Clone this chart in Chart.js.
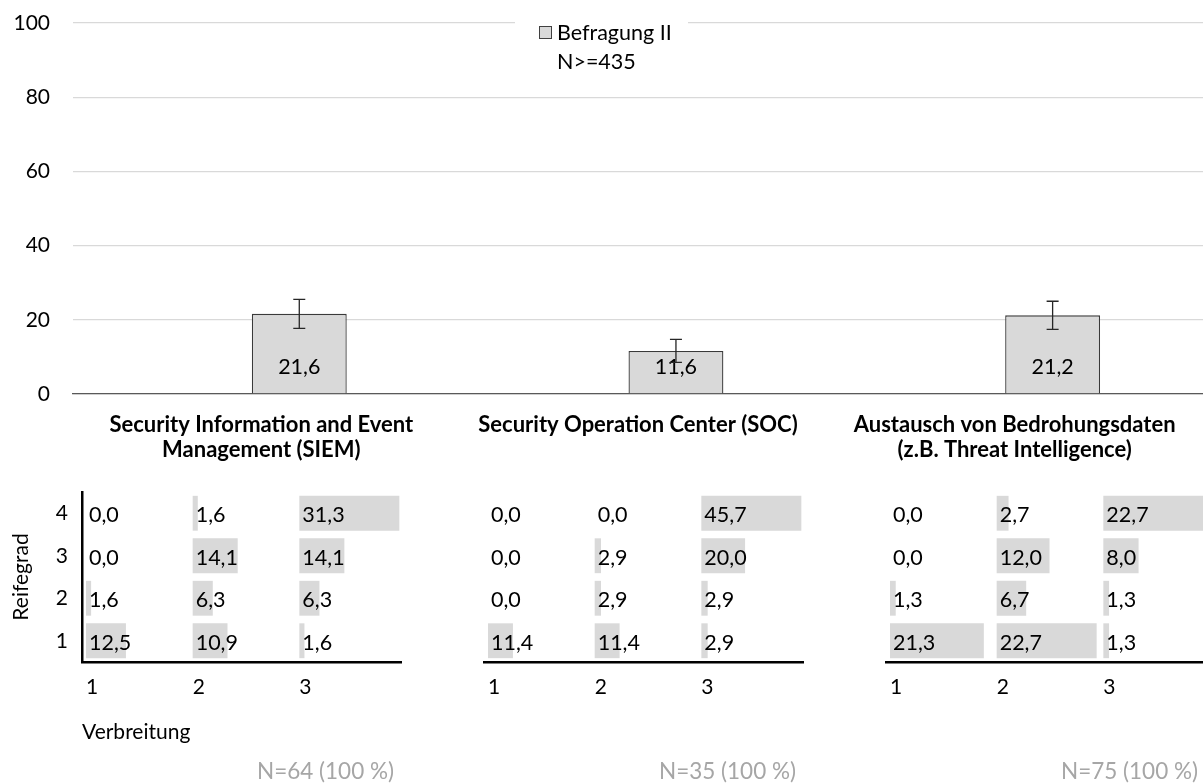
<!DOCTYPE html>
<html lang="de">
<head>
<meta charset="utf-8">
<title>Befragung II</title>
<script src="https://cdn.jsdelivr.net/npm/chart.js@4.4.1/dist/chart.umd.min.js"></script>
<style>
  html, body { margin: 0; padding: 0; background: #fff; width: 1203px; height: 783px; overflow: hidden; }
  canvas { position: absolute; }
  #main { left: 0; top: 0; }
  #p0 { left: 0; top: 480px; }
  #p1 { left: 402px; top: 480px; }
  #p2 { left: 804px; top: 480px; }
</style>
</head>
<body>
<canvas id="main" width="1203" height="470"></canvas>
<canvas id="p0" width="402" height="303"></canvas>
<canvas id="p1" width="402" height="303"></canvas>
<canvas id="p2" width="402" height="303"></canvas>
<script>
// --- data ---
const categories = [
    ['Security Information and Event', 'Management (SIEM)'],
    ['Security Operation Center (SOC)'],
    ['Austausch von Bedrohungsdaten', '(z.B. Threat Intelligence)']
];
const werte = [21.6, 11.6, 21.2];
const fehler = [3.9, 3.1, 3.8];
const seriesLabel = 'Befragung II';
const seriesNote = 'N>=435';
const yTicks = [0, 20, 40, 60, 80, 100];

// lower tables: rows = Reifegrad 4..1, columns = Verbreitung 1..3
const reifegrad = ['4', '3', '2', '1'];
const verbreitung = ['1', '2', '3'];
const siem = [[0.0, 1.6, 31.3], [0.0, 14.1, 14.1], [1.6, 6.3, 6.3], [12.5, 10.9, 1.6]];
const soc = [[0.0, 0.0, 45.7], [0.0, 2.9, 20.0], [0.0, 2.9, 2.9], [11.4, 11.4, 2.9]];
const cti = [[0.0, 2.7, 22.7], [0.0, 12.0, 8.0], [1.3, 6.7, 1.3], [21.3, 22.7, 1.3]];
const stichprobe = ['N=64 (100 %)', 'N=35 (100 %)', 'N=75 (100 %)'];

const FONT = 'Lato, "Noto Sans", sans-serif';
const fmt = v => v.toFixed(1).replace('.', ',');

Chart.defaults.font.family = FONT;
Chart.defaults.color = '#000';

// value labels + error bars on the top chart
const barExtras = {
    id: 'barExtras',
    afterDatasetsDraw(chart) {
        const ctx = chart.ctx;
        const y = chart.scales.y;
        const bars = chart.getDatasetMeta(1).data;
        ctx.save();
        ctx.font = '21.5px ' + FONT;
        ctx.fillStyle = '#000';
        ctx.textAlign = 'center';
        ctx.textBaseline = 'middle';
        bars.forEach((b, i) => ctx.fillText(fmt(werte[i]), b.x, b.base - 26));
        ctx.strokeStyle = '#262626';
        ctx.lineWidth = 1.3;
        bars.forEach((b, i) => {
            const top = y.getPixelForValue(werte[i] + fehler[i]);
            const bot = y.getPixelForValue(werte[i] - fehler[i]);
            ctx.beginPath();
            ctx.moveTo(b.x, top); ctx.lineTo(b.x, bot);
            ctx.moveTo(b.x - 6, top); ctx.lineTo(b.x + 6, top);
            ctx.moveTo(b.x - 6, bot); ctx.lineTo(b.x + 6, bot);
            ctx.stroke();
        });
        ctx.restore();
    }
};

// legend sits inside the plot, on a white box
const legendBox = {
    id: 'legendBox',
    afterDraw(chart) {
        const ctx = chart.ctx;
        ctx.save();
        ctx.fillStyle = '#fff';
        ctx.fillRect(515, 12, 173, 64);
        ctx.fillStyle = '#d9d9d9';
        ctx.fillRect(539, 26, 13, 13);
        ctx.strokeStyle = '#404040';
        ctx.lineWidth = 1;
        ctx.strokeRect(539.5, 26.5, 12, 12);
        ctx.fillStyle = '#000';
        ctx.font = '21.5px ' + FONT;
        ctx.textBaseline = 'middle';
        ctx.fillText(seriesLabel, 557, 33);
        ctx.fillText(seriesNote, 557, 62);
        ctx.restore();
    }
};

new Chart(document.getElementById('main'), {
    type: 'bar',
    data: {
        labels: categories,
        datasets: [{
            // first slot of each group is empty in the source chart
            label: 'Befragung I',
            data: categories.map(() => null)
        }, {
            label: seriesLabel,
            data: werte,
            backgroundColor: '#d9d9d9',
            borderColor: '#3a3a3a',
            borderWidth: 1.3
        }]
    },
    options: {
        responsive: false,
        animation: false,
        categoryPercentage: 0.403,
        barPercentage: 1.25,
        layout: {padding: {top: 23, left: 0, right: 0, bottom: 0}},
        plugins: {legend: {display: false}, tooltip: {enabled: false}},
        scales: {
            x: {
                afterFit: s => { s.height = 76; s.paddingLeft = 0; s.paddingRight = 0; },
                grid: {display: false, drawTicks: false},
                border: {color: '#595959', width: 1.3},
                ticks: {
                    autoSkip: false,
                    maxRotation: 0,
                    padding: 18.5,
                    font: {size: 22, weight: 'bold', lineHeight: '25px'}
                }
            },
            y: {
                min: 0,
                max: 100,
                afterBuildTicks: s => { s.ticks = yTicks.map(v => ({value: v})); },
                afterFit: s => { s.width = 73; s.paddingTop = 0; s.paddingBottom = 0; },
                grid: {color: '#d9d9d9', lineWidth: 1.3, drawTicks: false},
                border: {display: false},
                ticks: {padding: 23, font: {size: 21}}
            }
        }
    },
    plugins: [barExtras, legendBox]
});

// small data-bar tables under each category
function cellText(rows, note) {
    return {
        id: 'cellText',
        afterDatasetsDraw(chart) {
            const ctx = chart.ctx;
            ctx.save();
            ctx.font = '21.5px ' + FONT;
            ctx.fillStyle = '#000';
            ctx.textBaseline = 'middle';
            ctx.textAlign = 'left';
            chart.data.datasets.forEach((ds, c) => {
                chart.getDatasetMeta(c).data.forEach((bar, r) => {
                    ctx.fillText(fmt(rows[r][c]), Math.min(bar.x, bar.base) + 3, bar.y + 2);
                });
            });
            ctx.font = '22.5px ' + FONT;
            ctx.fillStyle = '#a6a6a6';
            ctx.textAlign = 'right';
            ctx.fillText(note, chart.chartArea.right - 8, chart.height - 11);
            ctx.restore();
        }
    };
}

function panel(id, rows, idx) {
    const maxV = Math.max(...rows.flat());
    const span = maxV / 0.9375;   // one Verbreitung column, longest bar fills ~94 %
    const inset = span * 0.0375;
    const first = idx === 0;
    const datasets = verbreitung.map((v, c) => ({
        label: 'Verbreitung ' + v,
        data: rows.map(r => [c * span + inset, c * span + inset + r[c]]),
        backgroundColor: '#d9d9d9',
        borderWidth: 0,
        grouped: false,
        categoryPercentage: 1,
        barPercentage: 0.82
    }));
    new Chart(document.getElementById(id), {
        type: 'bar',
        data: {labels: reifegrad, datasets: datasets},
        options: {
            indexAxis: 'y',
            responsive: false,
            animation: false,
            layout: {padding: {top: 12, left: 0, right: 0, bottom: 0}},
            plugins: {legend: {display: false}, tooltip: {enabled: false}},
            scales: {
                x: {
                    type: 'linear',
                    min: 0,
                    max: 3 * span,
                    offset: false,
                    afterBuildTicks: s => { s.ticks = verbreitung.map((_, c) => ({value: c * span + inset})); },
                    afterFit: s => { s.height = 121; s.paddingLeft = 0; s.paddingRight = 0; },
                    grid: {display: false, drawTicks: false},
                    border: {color: '#000', width: 2.5},
                    ticks: {
                        align: 'start',
                        padding: 13,
                        autoSkip: false,
                        maxRotation: 0,
                        font: {size: 21},
                        callback: (v, i) => verbreitung[i]
                    },
                    title: {
                        display: first,
                        text: 'Verbreitung',
                        align: 'start',
                        font: {size: 21},
                        padding: {top: 0, bottom: 38}
                    }
                },
                y: {
                    afterFit: s => { s.width = 82; s.paddingTop = 0; s.paddingBottom = 0; },
                    grid: {display: false, drawTicks: false},
                    border: {display: first, color: '#000', width: 2.5},
                    ticks: {display: first, padding: 14, font: {size: 21}},
                    title: {
                        display: first,
                        text: 'Reifegrad',
                        font: {size: 21},
                        padding: {top: 9, bottom: 0}
                    }
                }
            }
        },
        plugins: [cellText(rows, stichprobe[idx])]
    });
}

panel('p0', siem, 0);
panel('p1', soc, 1);
panel('p2', cti, 2);
</script>
</body>
</html>
